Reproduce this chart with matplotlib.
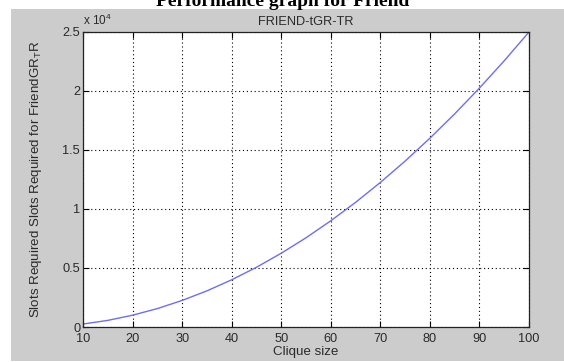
import matplotlib
matplotlib.use("Agg")
import matplotlib.pyplot as plt
from matplotlib.patches import Rectangle
from matplotlib.ticker import FuncFormatter, MultipleLocator

# clique size vs slots required
clique_size = [10, 15, 20, 25, 30, 35, 40, 45, 50, 55, 60, 65, 70, 75, 80, 85, 90, 95, 100]
slots = [250, 560, 1000, 1560, 2250, 3060, 4000, 5060, 6250, 7560,
         9000, 10560, 12250, 14060, 16000, 18060, 20250, 22560, 25000]

plt.rcParams["font.family"] = ["Liberation Sans", "DejaVu Sans"]

W, H = 564, 362
fig = plt.figure(figsize=(W / 100, H / 100), dpi=100, facecolor="white")

# grey matlab-style panel
fig.patches.append(Rectangle((11 / W, 1 - 361 / H), (W - 11) / W, (361 - 9) / H,
                             transform=fig.transFigure, facecolor="#cccccc",
                             edgecolor="none", zorder=-5))

# page heading, cut off by the top edge
fig.text(283 / W, 1 - 6 / H, "Performance graph for Friend", ha="center",
         va="baseline", family=["Liberation Serif", "DejaVu Serif"],
         fontweight="bold", fontsize=14)

ax = fig.add_axes([83 / W, 1 - 327 / H, (529 - 83) / W, (327 - 32) / H])
ax.set_zorder(2)
ax.set_facecolor("white")
ax.plot(clique_size, slots, color="#6e6ef0", linewidth=1.0)

ax.set_xlim(10, 100)
ax.set_ylim(0, 25000)
ax.xaxis.set_major_locator(MultipleLocator(10))
ax.yaxis.set_major_locator(MultipleLocator(5000))
ax.yaxis.set_major_formatter(FuncFormatter(lambda v, p: f"{v / 1e4:g}"))

ax.grid(True, color="black", linestyle=(0, (1, 2.5)), linewidth=0.8)
ax.tick_params(direction="in", top=True, right=True, length=4, width=0.8,
               labelsize=9.2, colors="black", labelcolor="#2a2a2a")
ax.tick_params(axis="x", pad=4)
ax.tick_params(axis="y", pad=2)
for s in ax.spines.values():
    s.set_linewidth(0.9)
    s.set_color("#222222")

ax.set_xlabel("Clique size", fontsize=9.6, color="#2a2a2a", labelpad=1)
ax.set_ylabel("Slots Required Slots Required for FriendGR$_\\mathregular{T}$R",
              fontsize=9.6, color="#2a2a2a", labelpad=13)
ax.set_title("FRIEND-tGR-TR", fontsize=9.2, color="#2a2a2a", pad=5)
ax.text(0.0, 1.015, "x 10$^\\mathregular{4}$", transform=ax.transAxes,
        fontsize=8.5, color="#2a2a2a", ha="left", va="bottom")

fig.savefig("out.png", dpi=100, facecolor="white")
plt.close(fig)
